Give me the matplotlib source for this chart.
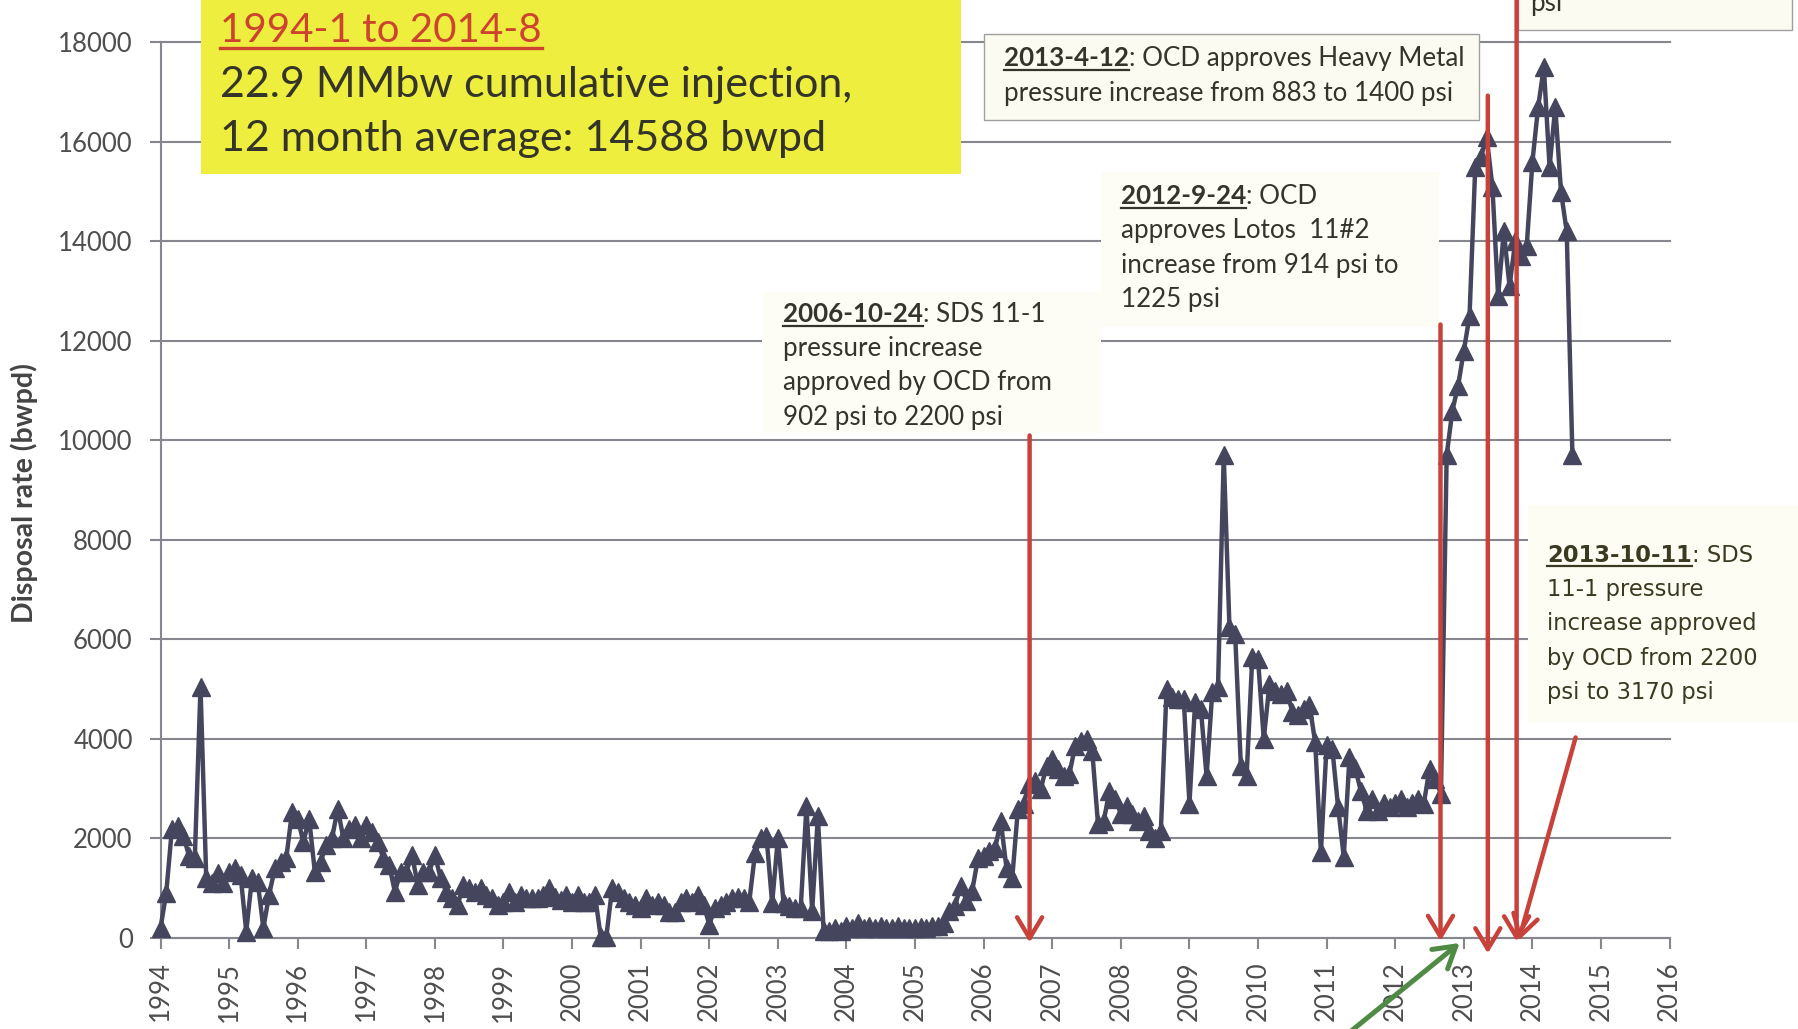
import matplotlib
matplotlib.use('Agg')
import matplotlib.pyplot as plt
from matplotlib.patches import Rectangle
from matplotlib.lines import Line2D

# ---------------- data (monthly disposal rate, bwpd) ----------------
y1994 = [200, 900, 2200, 2250, 2050, 1650, 1600, 5050, 1200, 1100, 1300, 1100]
y1995 = [1330, 1400, 1270, 130, 1200, 1130, 200, 870, 1400, 1530, 1600, 2530]
y1996 = [2400, 1930, 2400, 1330, 1530, 1870, 2000, 2600, 2000, 2200, 2270, 2000]
y1997 = [2270, 2130, 1930, 1600, 1470, 930, 1330, 1330, 1670, 1070, 1330, 1330]
y1998 = [1670, 1200, 930, 800, 670, 1070, 1000, 930, 1000, 870, 800, 670]
y1999 = [730, 930, 730, 870, 800, 800, 800, 870, 1000, 830, 770, 870]
y2000 = [730, 870, 730, 730, 870, 30, 30, 1000, 930, 800, 730, 670]
y2001 = [600, 800, 670, 730, 670, 530, 530, 730, 800, 730, 870, 670]
y2002 = [270, 600, 670, 730, 800, 830, 800, 730, 1700, 2000, 2050, 700]
y2003 = [2000, 700, 650, 600, 600, 2650, 550, 2450, 150, 150, 200, 150]
y2004 = [250, 200, 300, 200, 250, 200, 250, 200, 200, 250, 200, 200]
y2005 = [200, 220, 200, 250, 250, 300, 550, 650, 1050, 750, 950, 1600]
y2006 = [1650, 1750, 1800, 2350, 1400, 1200, 2600, 2700, 3100, 3150, 3000, 3450]
y2007 = [3600, 3400, 3250, 3300, 3850, 3950, 4000, 3750, 2300, 2350, 2950, 2800]
y2008 = [2500, 2650, 2500, 2350, 2450, 2150, 2000, 2150, 5000, 4850, 4800, 4800]
y2009 = [2700, 4750, 4600, 3250, 4950, 5050, 9700, 6250, 6100, 3450, 3250, 5650]
y2010 = [5600, 4000, 5100, 4970, 4900, 4970, 4550, 4480, 4600, 4690, 3930, 1720]
y2011 = [3880, 3800, 2640, 1630, 3640, 3410, 2950, 2560, 2790, 2560, 2710, 2640]
y2012 = [2710, 2790, 2640, 2710, 2800, 2700, 3400, 3200, 2900, 9700, 10600, 11100]
y2013 = [11800, 12500, 15500, 15700, 16100, 15100, 12900, 14200, 13100, 14000, 13700, 13900]
y2014 = [15600, 16700, 17500, 15500, 16700, 15000, 14200, 9700]

start_year = 1994
year_ticks = list(range(1994, 2017))
y_ticks = list(range(0, 18001, 2000))

# approval events (decimal year of red arrows), arrow tops and tips
event_x = [2006.67, 2012.66, 2013.35, 2013.77]
event_top = [10100, 12330, 16930, 18950]
event_tip = [-90, -60, -310, -70]
diag_from = (2014.63, 4030)
diag_to = (2013.80, -50)
green_from = (2011.33, -1900)
green_to = (2012.94, -100)

values = (y1994 + y1995 + y1996 + y1997 + y1998 + y1999 + y2000 + y2001 + y2002
          + y2003 + y2004 + y2005 + y2006 + y2007 + y2008 + y2009 + y2010 + y2011
          + y2012 + y2013 + y2014)
dates = [start_year + i / 12.0 for i in range(len(values))]

# ---------------- figure ----------------
W, H = 1798, 1029
fig = plt.figure(figsize=(W / 100, H / 100), dpi=100)
fig.patch.set_facecolor('white')

def fx(px):
    return px / W

def fy(py):
    return 1 - py / H

ax = fig.add_axes([fx(160.5), 1 - 938 / H, (1669.6 - 160.5) / W, (938 - 42.4) / H])
ax.set_xlim(1994, 2016)
ax.set_ylim(0, 18000)

GRID = '#86868f'
TICKLAB = '#4e4e4e'
LINE = '#45455e'
RED = '#c8413a'
GREEN = '#4f8b45'
TXT = '#34342a'

ax.set_axisbelow(True)
ax.grid(axis='y', color=GRID, lw=1.5)
ax.grid(axis='x', visible=False)
for gl in ax.get_ygridlines():
    gl.set_clip_on(False)
for s in ['top', 'right']:
    ax.spines[s].set_visible(False)
for s in ['left', 'bottom']:
    ax.spines[s].set_color(GRID)
    ax.spines[s].set_linewidth(1.5)

ax.set_xticks(year_ticks)
ax.set_xticklabels([str(y) for y in year_ticks], rotation=90)
ax.set_yticks(y_ticks)
ax.set_yticklabels([str(v) for v in y_ticks])
ax.tick_params(axis='both', direction='out', length=8, width=1.5, color=GRID,
               labelsize=18.5, labelcolor=TICKLAB)
ax.tick_params(axis='y', pad=12)
ax.tick_params(axis='x', pad=9)
for lab in ax.get_xticklabels() + ax.get_yticklabels():
    lab.set_family('Lato')

fig.text(fx(24), fy(493), 'Disposal rate (bwpd)', rotation=90, ha='center', va='center',
         fontsize=20.5, fontweight='bold', family='Lato', color='#444444')

# data series
ax.plot(dates, values, color=LINE, lw=3.2, marker='^', ms=13.5, mfc=LINE, mec=LINE,
        zorder=3, clip_on=False)

# ---------------- boxes (pixel coords, origin top-left) ----------------
def box(x0, y0, x1, y1, fc, ec='none', lw=0.0):
    r = Rectangle((fx(x0), fy(y1)), (x1 - x0) / W, (y1 - y0) / H, transform=fig.transFigure,
                  facecolor=fc, edgecolor=ec, linewidth=lw, zorder=1, clip_on=False)
    ax.add_patch(r)

box(201, -5, 961, 174, '#eeee3e')                       # yellow summary
box(984, 34, 1479, 120, '#fbfbf1', '#a0a0a0', 1.0)      # 2013-4-12
box(1101, 172, 1439, 327, '#fdfdf5')                     # 2012-9-24
box(762, 292, 1101, 433, '#fdfdf5')                      # 2006-10-24
box(1528, 505, 1800, 722, '#fdfdf3')                     # 2013-10-11
box(1518, -10, 1792, 30, '#fbfbf1', '#a0a0a0', 1.0)     # top-right (cut off)

# ---------------- arrows ----------------
def arrow(p_from, p_to, color, lw=3.2):
    ax.annotate('', xy=p_to, xytext=p_from, xycoords='data', textcoords='data',
                arrowprops=dict(arrowstyle='->,head_length=0.75,head_width=0.45',
                                color=color, lw=lw, shrinkA=0, shrinkB=0,
                                mutation_scale=20),
                annotation_clip=False, zorder=4)

for xe, yt, yb in zip(event_x, event_top, event_tip):
    arrow((xe, yt), (xe, yb), RED)
arrow(diag_from, diag_to, RED)
arrow(green_from, green_to, GREEN, lw=3.6)

# ---------------- rich text helper ----------------
renderer = fig.canvas.get_renderer()

def rich(x_px, y_px, parts, size, family, color, ul_color=None, ul_lw=1.6, ul_off=4):
    x = x_px
    for txt, bold, ul in parts:
        t = fig.text(fx(x), fy(y_px), txt, fontsize=size, family=family,
                     fontweight='bold' if bold else 'normal', color=color,
                     ha='left', va='baseline', zorder=6)
        bb = t.get_window_extent(renderer)
        if ul:
            fig.add_artist(Line2D([fx(x), fx(x + bb.width)], [fy(y_px + ul_off)] * 2,
                                  transform=fig.transFigure, color=ul_color or color,
                                  lw=ul_lw, zorder=6))
        x += bb.width

ANN = 18.7

# yellow summary box
rich(220, 42, [('1994-1 to 2014-8', False, True)], 29, 'Lato', '#cc4430', ul_lw=2.4, ul_off=6)
rich(220, 97, [('22.9 MMbw cumulative injection,', False, False)], 31, 'Lato', TXT)
rich(220, 151, [('12 month average: 14588 bwpd', False, False)], 31, 'Lato', TXT)

# 2013-4-12
rich(1004, 66, [('2013-4-12', True, True), (': OCD approves Heavy Metal', False, False)], ANN, 'Lato', TXT)
rich(1004, 101, [('pressure increase from 883 to 1400 psi', False, False)], ANN, 'Lato', TXT)

# 2012-9-24
for i, parts in enumerate([[('2012-9-24', True, True), (': OCD', False, False)],
                           [('approves Lotos  11#2', False, False)],
                           [('increase from 914 psi to', False, False)],
                           [('1225 psi', False, False)]]):
    rich(1121, 204 + 34.4 * i, parts, ANN, 'Lato', TXT)

# 2006-10-24
for i, parts in enumerate([[('2006-10-24', True, True), (': SDS 11-1', False, False)],
                           [('pressure increase', False, False)],
                           [('approved by OCD from', False, False)],
                           [('902 psi to 2200 psi', False, False)]]):
    rich(783, 322 + 34.2 * i, parts, ANN, 'Lato', TXT)

# 2013-10-11
for i, parts in enumerate([[('2013-10-11', True, True), (': SDS', False, False)],
                           [('11-1 pressure', False, False)],
                           [('increase approved', False, False)],
                           [('by OCD from 2200', False, False)],
                           [('psi to 3170 psi', False, False)]]):
    rich(1547, 562 + 34.2 * i, parts, 16.3, 'DejaVu Sans', '#3a3a22')

# top-right cut-off box
rich(1530, 11, [('psi', False, False)], ANN, 'Lato', TXT)

fig.savefig('out.png', dpi=100)
